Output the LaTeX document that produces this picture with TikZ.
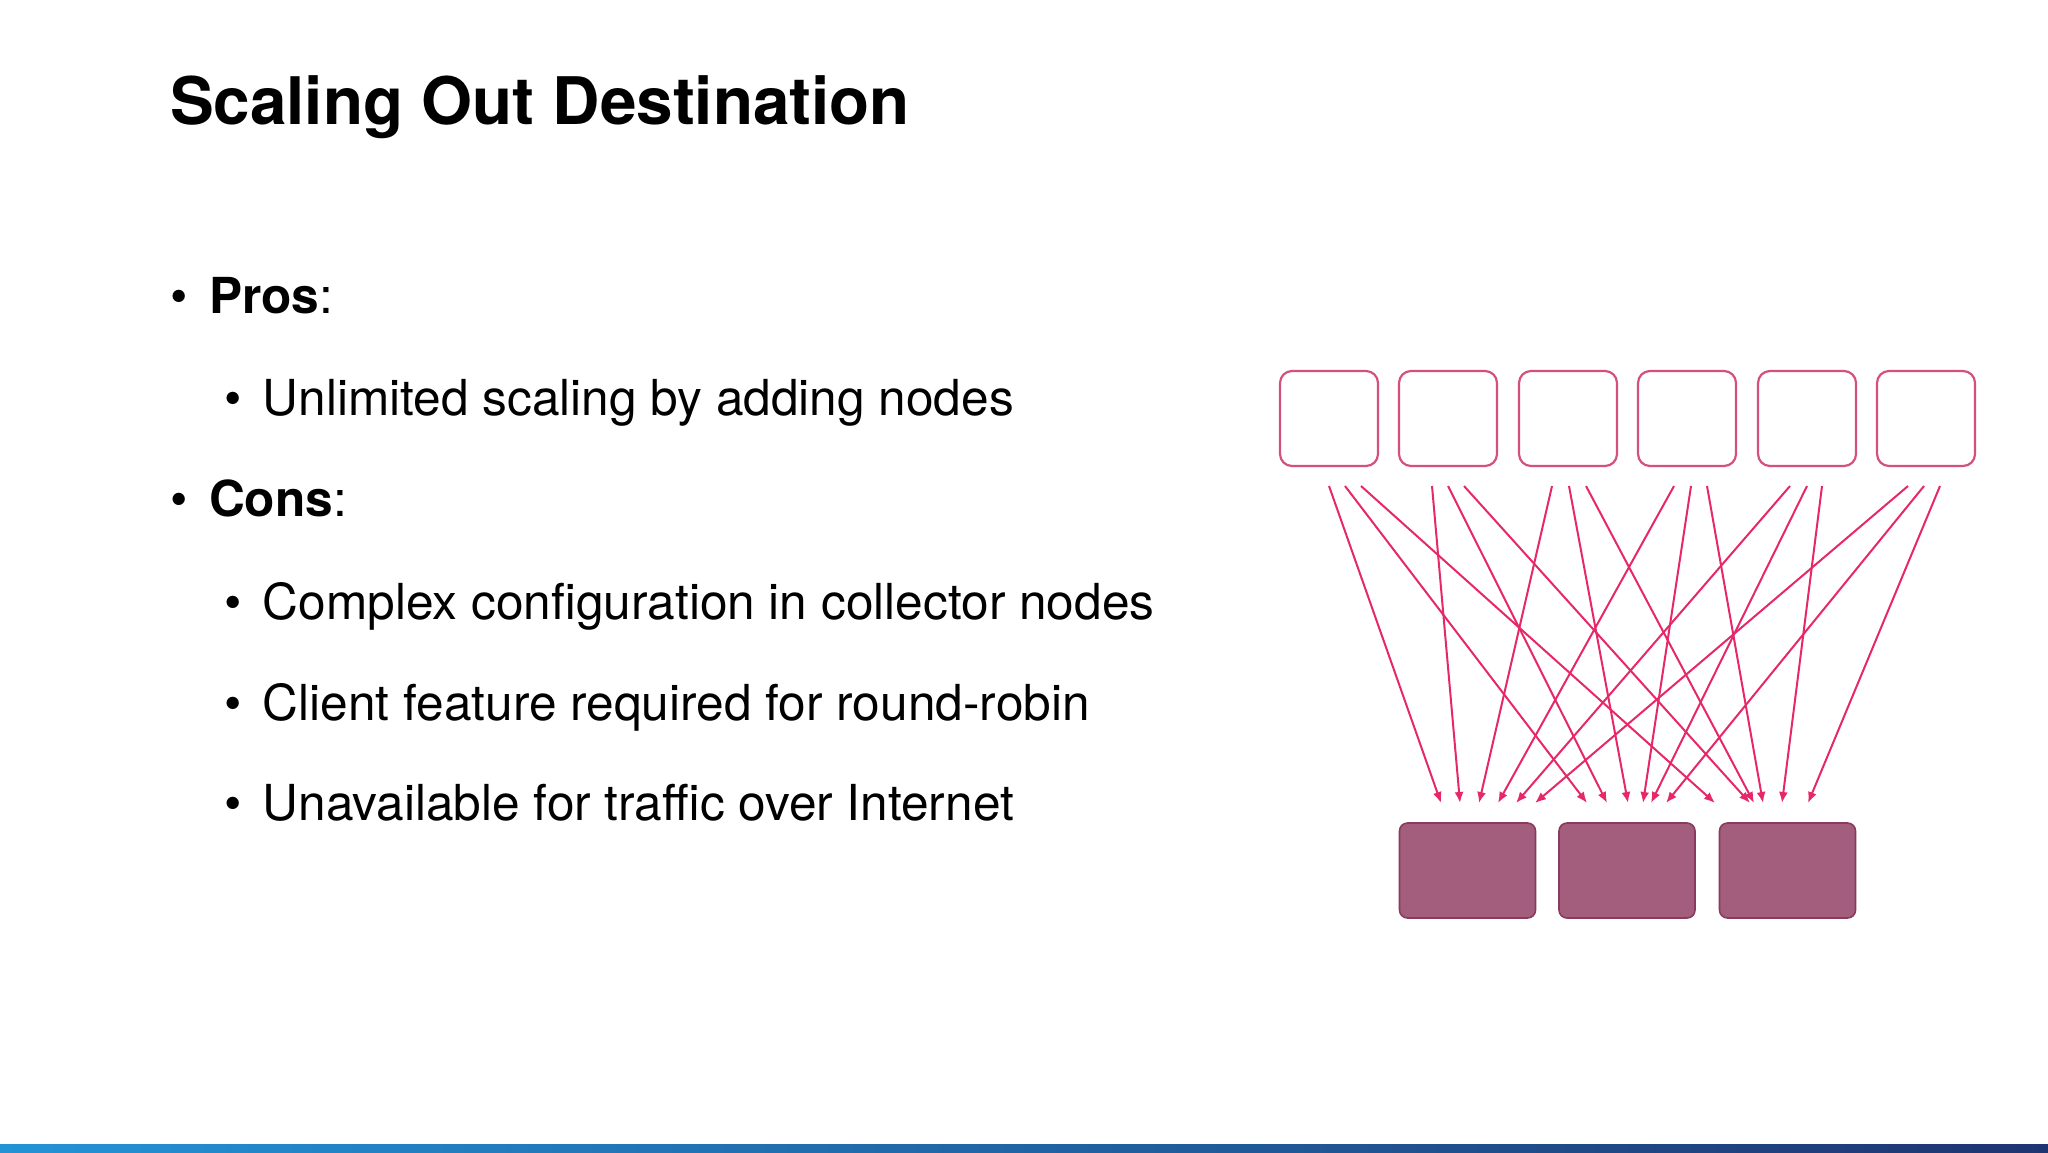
\documentclass[tikz,border=0pt]{standalone}
\usepackage{fontspec}
\setmainfont{TeX Gyre Heros}
\usepackage{xcolor}
\usepackage{tikz}
\usetikzlibrary{calc, positioning, arrows.meta}
\definecolor{feedpink}{HTML}{E6286A}
\definecolor{srcedge}{HTML}{D4507E}
\definecolor{dstfill}{HTML}{A35D7D}
\definecolor{dstedge}{HTML}{8A3A5E}
\definecolor{barleft}{HTML}{2393D6}
\definecolor{barright}{HTML}{1E3470}
\newcommand{\fsTitle}{\fontsize{32.8}{38}\selectfont\bfseries}
\newcommand{\fsBody}{\fontsize{24.8}{30}\selectfont}
\newcommand{\itemdot}{\makebox[19.5pt][l]{\textbullet}}

\begin{document}
\begin{tikzpicture}[x=0.5pt, y=-0.5pt,
  every node/.style={inner sep=0pt, outer sep=0pt},
  srcbox/.style={draw=srcedge, line width=1.1pt, fill=white, rounded corners=6pt,
    minimum width=49pt, minimum height=47.5pt},
  dstbox/.style={draw=dstedge, line width=0.8pt, fill=dstfill, rounded corners=4pt,
    minimum width=68pt, minimum height=47.5pt},
  feed/.style={feedpink, line width=1pt, -{Latex[length=5.5pt, width=4.5pt]}}]
  \useasboundingbox (0,0) rectangle (2048,1152);
  \fill[white] (0,0) rectangle (2048,1152);

  % title and bullets
  \node[anchor=base west, font=\fsTitle] (title) at (170,124) {Scaling Out Destination};
  \node[anchor=base west, font=\fsBody] (pros) at (170,313) {\itemdot\textbf{Pros}:};
  \node[anchor=base west, font=\fsBody] (prosA) at (224,415) {\itemdot Unlimited scaling by adding nodes};
  \node[anchor=base west, font=\fsBody] (cons) at (170,516) {\itemdot\textbf{Cons}:};
  \node[anchor=base west, font=\fsBody] (consA) at (224,619) {\itemdot Complex configuration in collector nodes};
  \node[anchor=base west, font=\fsBody] (consB) at (224,720) {\itemdot Client feature required for round-robin};
  \node[anchor=base west, font=\fsBody] (consC) at (224,820) {\itemdot Unavailable for traffic over Internet};

  % collectors and destinations
  \foreach \i/\x in {1/1329, 2/1448, 3/1568, 4/1687, 5/1807, 6/1926}
    \node[srcbox] (src\i) at (\x,418.5) {};
  \foreach \j/\x in {1/1467.5, 2/1627, 3/1787.5}
    \node[dstbox] (dst\j) at (\x,870.5) {};

  % every collector sends to every destination
  \foreach \i/\ox/\j/\tx in {
      1/0/1/-26.5, 1/16/2/-40, 1/32/3/-72.5,
      2/-16/1/-7.5, 2/0/2/-20, 2/16/3/-37.5,
      3/-16/1/11.5, 3/1/2/1, 3/18/3/-33.5,
      4/-13/1/30.5, 4/4/2/16, 4/20/3/-24.5,
      5/-17/1/48.5, 5/0/2/24, 5/15/3/-5.5,
      6/-18/1/67.5, 6/-2/2/39, 6/14/3/20.5}{
    \coordinate (out\i\j) at ($(src\i.south)+(\ox,20)$);
    \coordinate (in\i\j) at ($(dst\j.north)+(\tx,-20)$);
    \draw[feed] (out\i\j) -- (in\i\j);
  }

  \shade[left color=barleft, right color=barright] (0,1144) rectangle (2048,1152);
\end{tikzpicture}
\end{document}
